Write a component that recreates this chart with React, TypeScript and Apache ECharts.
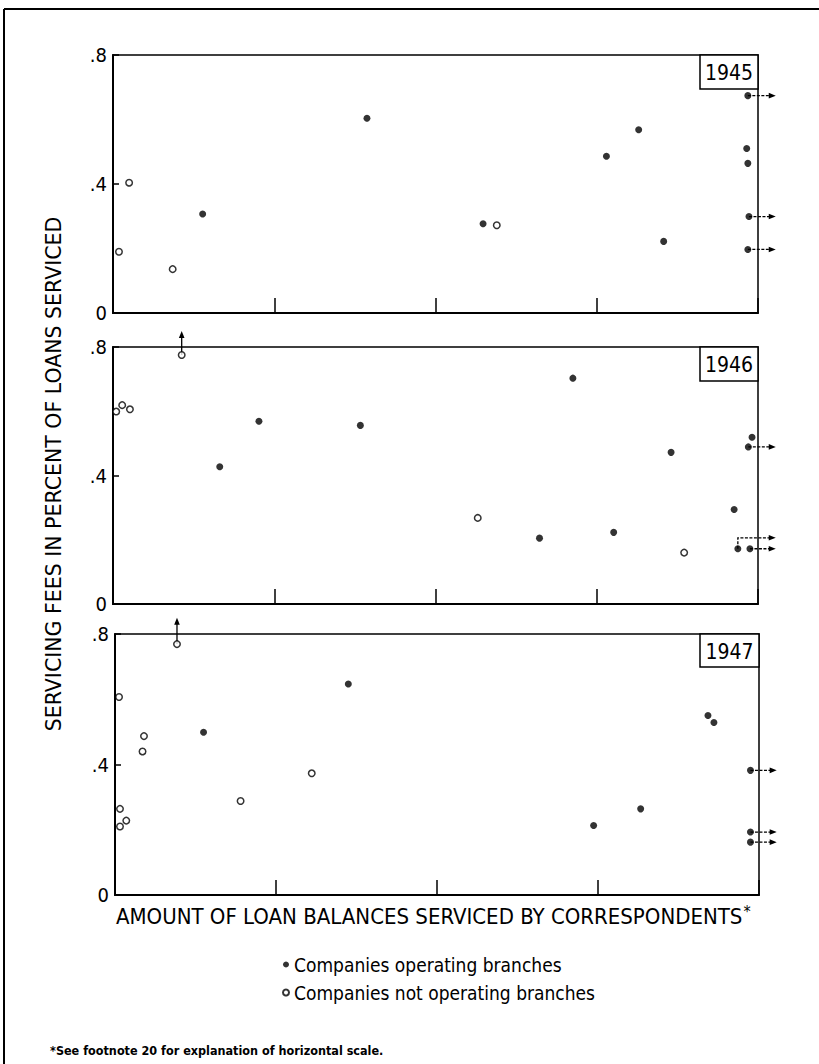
import React, { useEffect, useRef } from "react";
import * as echarts from "echarts";

// ---------------- data ----------------
const years = ["1945", "1946", "1947"];
const yTicks = [0, 0.4, 0.8];
const xTicks = [0, 1, 2, 3, 4];

// companies operating branches (filled dots)
const filled1945: number[][] = [
  [0.556, 0.307], [1.575, 0.604], [2.295, 0.277], [3.06, 0.486],
  [3.26, 0.568], [3.415, 0.222], [3.93, 0.51], [3.937, 0.464],
];
const filled1946: number[][] = [
  [0.662, 0.427], [0.905, 0.569], [1.534, 0.556], [2.645, 0.205],
  [2.852, 0.703], [3.105, 0.223], [3.461, 0.472], [3.852, 0.294], [3.963, 0.519],
];
const filled1947: number[][] = [
  [0.55, 0.499], [1.449, 0.647], [2.973, 0.213], [3.265, 0.264],
  [3.683, 0.55], [3.72, 0.529],
];

// companies not operating branches (open circles)
const open1945: number[][] = [
  [0.037, 0.19], [0.1, 0.404], [0.37, 0.136], [2.38, 0.272],
];
const open1946: number[][] = [
  [0.02, 0.599], [0.057, 0.619], [0.105, 0.606], [2.262, 0.268], [3.542, 0.16],
];
const open1947: number[][] = [
  [0.025, 0.607], [0.031, 0.264], [0.031, 0.21], [0.07, 0.228],
  [0.171, 0.44], [0.18, 0.487], [0.78, 0.288], [1.222, 0.373],
];

// points beyond the horizontal scale (filled, arrow to the right)
const beyondRight1945: number[][] = [[3.937, 0.674], [3.944, 0.299], [3.937, 0.197]];
const beyondRight1946: number[][] = [[3.94, 0.489], [3.95, 0.172]];
const beyondRight1947: number[][] = [[3.947, 0.382], [3.947, 0.193], [3.947, 0.162]];

// filled point with bent arrow: [x, y, cornerY]
const bent1946: number[][] = [[3.875, 0.172, 0.206]];

// points above the vertical scale (open, arrow up)
const beyondUp1945: number[][] = [];
const beyondUp1946: number[][] = [[0.426, 0.775]];
const beyondUp1947: number[][] = [[0.385, 0.769]];

const ARROW_X = 4.11;
const ARROW_UP_Y = 0.85;

const filledSets = [filled1945, filled1946, filled1947];
const openSets = [open1945, open1946, open1947];
const rightSets = [beyondRight1945, beyondRight1946, beyondRight1947];
const bentSets = [[], bent1946, []] as number[][][];
const upSets = [beyondUp1945, beyondUp1946, beyondUp1947];

const NAME_FILLED = "Companies operating branches";
const NAME_OPEN = "Companies not operating branches";

// ---------------- layout ----------------
const grids = [
  { left: 113, top: 55, width: 645, height: 258 },
  { left: 113, top: 347, width: 645, height: 257 },
  { left: 115, top: 634, width: 644, height: 261 },
];
const COND = "'DejaVu Sans Condensed', 'Liberation Sans Narrow', 'DejaVu Sans', sans-serif";

function fmtY(v: number) {
  if (v === 0) return "0";
  return String(Math.round(v * 10) / 10).replace(/^0\./, ".");
}

export default function App() {
  const ref = useRef<HTMLDivElement>(null);

  useEffect(() => {
    document.body.style.margin = "0";
    if (!ref.current) return;
    const chart = echarts.init(ref.current, null, { renderer: "svg" });

    const series: any[] = [];
    grids.forEach((_, i) => {
      const arrowData: number[][] = [];
      rightSets[i].forEach((p) => arrowData.push([p[0], p[1], 0, 0]));
      upSets[i].forEach((p) => arrowData.push([p[0], p[1], 1, 0]));
      bentSets[i].forEach((p) => arrowData.push([p[0], p[1], 2, p[2]]));

      series.push({
        type: "custom",
        xAxisIndex: i,
        yAxisIndex: i,
        silent: true,
        z: 1,
        clip: false,
        data: arrowData,
        renderItem: (params: any, api: any) => {
          const x = api.value(0);
          const y = api.value(1);
          const t = api.value(2);
          const p = api.coord([x, y]);
          let pts: number[][];
          if (t === 0) {
            pts = [p, api.coord([ARROW_X, y])];
          } else if (t === 1) {
            pts = [p, api.coord([x, ARROW_UP_Y])];
          } else {
            const cy = api.value(3);
            const c = api.coord([x, cy]);
            pts = [[p[0], p[1]], c, api.coord([ARROW_X, cy])];
          }
          const end = pts[pts.length - 1];
          const prev = pts[pts.length - 2];
          const dx = end[0] - prev[0];
          const dy = end[1] - prev[1];
          const len = Math.sqrt(dx * dx + dy * dy) || 1;
          const ux = dx / len;
          const uy = dy / len;
          const hl = 7;
          const hw = 2.8;
          const bx = end[0] - ux * hl;
          const by = end[1] - uy * hl;
          const linePts = pts.slice(0, -1).concat([[bx + ux * 1, by + uy * 1]]);
          return {
            type: "group",
            children: [
              {
                type: "polyline",
                shape: { points: linePts },
                style: {
                  stroke: "#000",
                  lineWidth: 1.3,
                  fill: null,
                  lineDash: t === 1 ? null : [3, 1.5],
                },
              },
              {
                type: "polygon",
                shape: {
                  points: [
                    [end[0], end[1]],
                    [bx - uy * hw, by + ux * hw],
                    [bx + uy * hw, by - ux * hw],
                  ],
                },
                style: { fill: "#000" },
              },
            ],
          };
        },
      });

      series.push({
        name: NAME_FILLED,
        type: "scatter",
        xAxisIndex: i,
        yAxisIndex: i,
        silent: true,
        z: 3,
        symbol: "circle",
        symbolSize: 7,
        itemStyle: { color: "#000" },
        data: filledSets[i].concat(rightSets[i], bentSets[i].map((p) => [p[0], p[1]])),
      });
      series.push({
        name: NAME_OPEN,
        type: "scatter",
        xAxisIndex: i,
        yAxisIndex: i,
        silent: true,
        z: 3,
        symbol: "circle",
        symbolSize: 6.5,
        itemStyle: { color: "#fff", borderColor: "#000", borderWidth: 1.5 },
        data: openSets[i].concat(upSets[i]),
      });
    });

    const graphic: any[] = [
      // page frame
      { type: "line", shape: { x1: 4, y1: 9, x2: 819, y2: 9 }, style: { stroke: "#000", lineWidth: 2 } },
      { type: "line", shape: { x1: 4, y1: 9, x2: 4, y2: 1064 }, style: { stroke: "#000", lineWidth: 2 } },
    ];
    grids.forEach((g, i) => {
      const bx = 700;
      const bw = g.left + g.width - bx;
      const bh = i === 2 ? 33 : 34;
      graphic.push({
        type: "rect",
        z: 10,
        shape: { x: bx, y: g.top, width: bw, height: bh },
        style: { fill: "#fff", stroke: "#000", lineWidth: 1.5 },
      });
      graphic.push({
        type: "text",
        z: 11,
        x: bx + bw / 2,
        y: g.top + bh / 2 + 1,
        style: {
          text: years[i],
          fill: "#000",
          font: `21px ${COND}`,
          align: "center",
          verticalAlign: "middle",
        },
      });
    });
    graphic.push({
      type: "text",
      x: 54,
      y: 474,
      rotation: Math.PI / 2,
      style: {
        text: "SERVICING FEES IN PERCENT OF LOANS SERVICED",
        fill: "#000",
        font: `20.5px 'DejaVu Sans', sans-serif`,
        align: "center",
        verticalAlign: "middle",
      },
    });
    graphic.push({
      type: "text",
      x: 116,
      y: 916,
      style: {
        text: "{a|AMOUNT OF LOAN BALANCES SERVICED BY CORRESPONDENTS}{s|*}",
        rich: {
          a: { fontSize: 22, fontFamily: COND, fill: "#000", color: "#000" },
          s: { fontSize: 16, fontFamily: COND, fill: "#000", color: "#000", verticalAlign: "top", padding: [0, 0, 10, 1] },
        },
        align: "left",
        verticalAlign: "middle",
      },
    });
    graphic.push({
      type: "text",
      x: 50,
      y: 1050,
      style: {
        text: "*See footnote 20 for explanation of horizontal scale.",
        fill: "#000",
        font: `bold 12.5px ${COND}`,
        align: "left",
        verticalAlign: "middle",
      },
    });

    const option: any = {
      animation: false,
      backgroundColor: "#fff",
      grid: grids.map((g) => ({
        ...g,
        show: true,
        borderColor: "#000",
        borderWidth: 1.5,
        backgroundColor: "transparent",
        containLabel: false,
      })),
      xAxis: grids.map((_, i) => ({
        type: "value",
        gridIndex: i,
        min: xTicks[0],
        max: xTicks[xTicks.length - 1],
        interval: 1,
        axisLine: { show: true, onZero: false, lineStyle: { color: "#000", width: 2 } },
        axisTick: { show: true, inside: true, length: 15, lineStyle: { color: "#000", width: 1.5 } },
        axisLabel: { show: false },
        splitLine: { show: false },
      })),
      yAxis: grids.map((_, i) => ({
        type: "value",
        gridIndex: i,
        min: yTicks[0],
        max: yTicks[yTicks.length - 1],
        interval: 0.4,
        axisLine: { show: true, onZero: false, lineStyle: { color: "#000", width: 2 } },
        axisTick: { show: true, inside: true, length: 6, lineStyle: { color: "#000", width: 1.5 } },
        axisLabel: {
          show: true,
          margin: 6,
          color: "#000",
          fontSize: 20,
          fontFamily: COND,
          formatter: (v: number) => fmtY(v),
        },
        splitLine: { show: false },
      })),
      legend: {
        data: [NAME_FILLED, NAME_OPEN],
        orient: "vertical",
        left: 277,
        top: 950,
        icon: "circle",
        itemWidth: 6,
        itemHeight: 6,
        itemGap: 9,
        selectedMode: false,
        textStyle: { fontSize: 19, fontFamily: COND, color: "#000" },
      },
      graphic,
      series,
    };
    chart.setOption(option);
    return () => chart.dispose();
  }, []);

  return <div ref={ref} style={{ width: 819, height: 1064 }} />;
}
